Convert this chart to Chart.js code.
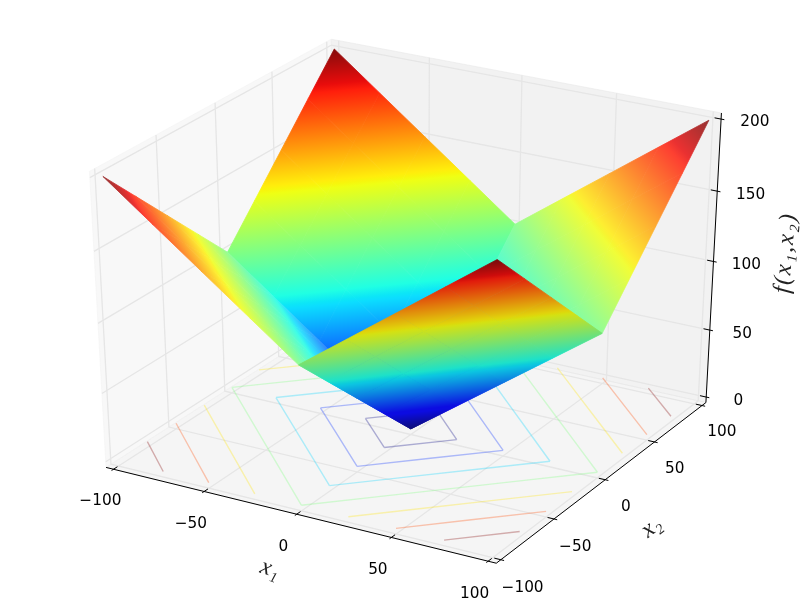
<!DOCTYPE html>
<html>
<head>
<meta charset="utf-8">
<style>
  html, body { margin: 0; padding: 0; background: #fff; }
  canvas { display: block; }
</style>
<script src="https://cdn.jsdelivr.net/npm/chart.js@4/dist/chart.umd.js"></script>
</head>
<body>
<canvas id="chart" width="800" height="600"></canvas>
<script>
// --- DATA ---
const x1Values = [-100, -75, -50, -25, 0, 25, 50, 75, 100];
const x2Values = [-100, -75, -50, -25, 0, 25, 50, 75, 100];
// f(x1, x2), one row per x2 value, one column per x1 value
const fValues = [
    [200, 175, 150, 125, 100, 125, 150, 175, 200],
    [175, 150, 125, 100, 75, 100, 125, 150, 175],
    [150, 125, 100, 75, 50, 75, 100, 125, 150],
    [125, 100, 75, 50, 25, 50, 75, 100, 125],
    [100, 75, 50, 25, 0, 25, 50, 75, 100],
    [125, 100, 75, 50, 25, 50, 75, 100, 125],
    [150, 125, 100, 75, 50, 75, 100, 125, 150],
    [175, 150, 125, 100, 75, 100, 125, 150, 175],
    [200, 175, 150, 125, 100, 125, 150, 175, 200]
];
const contourLevels = [25, 50, 75, 100, 125, 150, 175];
const x1Ticks = [-100, -50, 0, 50, 100];
const x2Ticks = [-100, -50, 0, 50, 100];
const zTicks = [0, 50, 100, 150, 200];
const x1TickLabels = ['\u2212100', '\u221250', '0', '50', '100'];
const x2TickLabels = ['\u2212100', '\u221250', '0', '50', '100'];
const zTickLabels = ['0', '50', '100', '150', '200'];
const x1Title = 'x\u2081';
const x2Title = 'x\u2082';
const zTitle = 'f(x\u2081,x\u2082)';

// --- VIEW (same camera as a default mplot3d axes) ---
const X_LIM = [-100, 100], Y_LIM = [-100, 100], Z_LIM = [0, 200];
const DIST = 10, ELEV = 30 * Math.PI / 180, AZIM = -60 * Math.PI / 180;
const N = [Math.cos(ELEV) * Math.cos(AZIM), Math.cos(ELEV) * Math.sin(AZIM), Math.sin(ELEV)];
const U = [Math.cos(AZIM + Math.PI / 2), Math.sin(AZIM + Math.PI / 2), 0];
const V = [N[1] * U[2] - N[2] * U[1], N[2] * U[0] - N[0] * U[2], N[0] * U[1] - N[1] * U[0]];

// the box is drawn a little larger than the limits
const PAD = 200 / 48;
const xLo = X_LIM[0] - PAD, xHi = X_LIM[1] + PAD;
const yLo = Y_LIM[0] - PAD, yHi = Y_LIM[1] + PAD;
const zLo = Z_LIM[0] - PAD, zHi = Z_LIM[1] + PAD;
const TICK = 200 / 12;

function dot(a, b) { return a[0] * b[0] + a[1] * b[1] + a[2] * b[2]; }

function world(x1, x2, z) {
    return [
        (x1 - X_LIM[0]) / (X_LIM[1] - X_LIM[0]) - 0.5,
        (x2 - Y_LIM[0]) / (Y_LIM[1] - Y_LIM[0]) - 0.5,
        (z - Z_LIM[0]) / (Z_LIM[1] - Z_LIM[0]) - 0.5
    ];
}

function project(x1, x2, z) {
    const p = world(x1, x2, z);
    const w = DIST - dot(N, p);
    return { x: dot(U, p) / w, y: dot(V, p) / w };
}

// --- COLOURS ---
const JET_STOPS = [0, 0.11, 0.125, 0.34, 0.35, 0.375, 0.64, 0.65, 0.66, 0.89, 0.91, 1];
const JET_R = [[0, 0], [0.35, 0], [0.66, 1], [0.89, 1], [1, 0.5]];
const JET_G = [[0, 0], [0.125, 0], [0.375, 1], [0.64, 1], [0.91, 0], [1, 0]];
const JET_B = [[0, 0.5], [0.11, 1], [0.34, 1], [0.65, 0], [1, 0]];

function channel(table, t) {
    for (let i = 1; i < table.length; i++) {
        if (t <= table[i][0]) {
            const a = table[i - 1], b = table[i];
            return a[1] + (b[1] - a[1]) * (t - a[0]) / (b[0] - a[0]);
        }
    }
    return table[table.length - 1][1];
}

function jet(t) {
    return [channel(JET_R, t) * 255, channel(JET_G, t) * 255, channel(JET_B, t) * 255];
}

function rgba(c, a) {
    return `rgba(${Math.round(c[0])},${Math.round(c[1])},${Math.round(c[2])},${a})`;
}

// each fold of the surface catches the light differently
const FACE_STYLE = {
    back: { shade: 1, alpha: 0.95 },
    left: { shade: 1, alpha: 0.8 },
    right: { shade: 1, alpha: 0.8 },
    front: { shade: 0.88, alpha: 0.95 }
};

function faceColor(style, t) {
    return jet(t).map(v => v * style.shade * style.alpha + 245 * (1 - style.alpha));
}

// gradient running through the quad along the direction f grows on screen
function quadGradient(chart, quad, style) {
    const sx = chart.scales.x, sy = chart.scales.y;
    if (!chart.chartArea) return 'rgba(0,0,0,0)';
    const pix = quad.map(c => {
        const p = project(c[0], c[1], c[2]);
        return [sx.getPixelForValue(p.x), sy.getPixelForValue(p.y), c[2]];
    });
    const a = pix[0], b = pix[1], d = pix[3];
    const dx1 = b[0] - a[0], dy1 = b[1] - a[1], df1 = b[2] - a[2];
    const dx2 = d[0] - a[0], dy2 = d[1] - a[1], df2 = d[2] - a[2];
    const det = dx1 * dy2 - dx2 * dy1;
    const gx = (df1 * dy2 - df2 * dy1) / det;
    const gy = (dx1 * df2 - dx2 * df1) / det;
    const g2 = gx * gx + gy * gy;
    const grad = chart.ctx.createLinearGradient(
        a[0] + gx * (Z_LIM[0] - a[2]) / g2, a[1] + gy * (Z_LIM[0] - a[2]) / g2,
        a[0] + gx * (Z_LIM[1] - a[2]) / g2, a[1] + gy * (Z_LIM[1] - a[2]) / g2
    );
    JET_STOPS.forEach(t => grad.addColorStop(t, rgba(faceColor(style, t), 1)));
    return grad;
}

// --- DATASETS ---
function polyline(points3d, color, width, order) {
    return {
        data: points3d.map(p => p ? project(p[0], p[1], p[2]) : { x: NaN, y: NaN }),
        showLine: true,
        borderColor: color,
        borderWidth: width,
        pointRadius: 0,
        tension: 0,
        fill: false,
        clip: false,
        order: order
    };
}

function polygon(points3d, fillColor, edgeColor, order) {
    const ds = polyline(points3d.concat([points3d[0]]), edgeColor, 1, order);
    ds.fill = 'shape';
    ds.backgroundColor = fillColor;
    return ds;
}

const datasets = [];

// panes
datasets.push(polygon([[xLo, yLo, zLo], [xLo, yHi, zLo], [xLo, yHi, zHi], [xLo, yLo, zHi]],
    'rgba(242,242,242,0.5)', 'rgba(242,242,242,0.5)', 1000));
datasets.push(polygon([[xLo, yHi, zLo], [xHi, yHi, zLo], [xHi, yHi, zHi], [xLo, yHi, zHi]],
    'rgba(230,230,230,0.5)', 'rgba(230,230,230,0.5)', 1000));
datasets.push(polygon([[xLo, yLo, zLo], [xHi, yLo, zLo], [xHi, yHi, zLo], [xLo, yHi, zLo]],
    'rgba(236,236,236,0.5)', 'rgba(236,236,236,0.5)', 1000));

// grid lines
const GRID = 'rgb(230,230,230)';
x1Ticks.forEach(v => datasets.push(polyline([[v, yLo, zLo], [v, yHi, zLo], [v, yHi, zHi]], GRID, 1.3, 900)));
x2Ticks.forEach(v => datasets.push(polyline([[xHi, v, zLo], [xLo, v, zLo], [xLo, v, zHi]], GRID, 1.3, 900)));
zTicks.forEach(v => datasets.push(polyline([[xLo, yLo, v], [xLo, yHi, v], [xHi, yHi, v]], GRID, 1.3, 900)));

// contours on the floor, traced across the cells of the table
contourLevels.forEach(level => {
    const pts = [];
    for (let j = 0; j < x2Values.length - 1; j++) {
        for (let i = 0; i < x1Values.length - 1; i++) {
            const hits = [[i, j], [i + 1, j], [i + 1, j + 1], [i, j + 1]]
                .filter(c => fValues[c[1]][c[0]] === level);
            if (hits.length === 2) {
                hits.forEach(c => pts.push([x1Values[c[0]], x2Values[c[1]], Z_LIM[0]]));
                pts.push(null);
            }
        }
    }
    const t = (level - contourLevels[0]) / (contourLevels[contourLevels.length - 1] - contourLevels[0]);
    datasets.push(polyline(pts, rgba(jet(t), 0.3), 1.4, 800));
});

// axis lines and ticks
const AXIS = '#000';
datasets.push(polyline([[xLo, yLo, zLo], [xHi, yLo, zLo]], AXIS, 1, 700));
datasets.push(polyline([[xHi, yLo, zLo], [xHi, yHi, zLo]], AXIS, 1, 700));
datasets.push(polyline([[xHi, yHi, zLo], [xHi, yHi, zHi]], AXIS, 1, 700));
x1Ticks.forEach(v => datasets.push(polyline([[v, yLo - 0.1 * TICK, zLo], [v, yLo + 0.2 * TICK, zLo]], AXIS, 1, 700)));
x2Ticks.forEach(v => datasets.push(polyline([[xHi + 0.1 * TICK, v, zLo], [xHi - 0.2 * TICK, v, zLo]], AXIS, 1, 700)));
zTicks.forEach(v => datasets.push(polyline([[xHi + 0.1 * TICK, yHi, v], [xHi - 0.2 * TICK, yHi, v]], AXIS, 1, 700)));

// surface, one dataset per table cell, far cells first
const quads = [];
for (let j = 0; j < x2Values.length - 1; j++) {
    for (let i = 0; i < x1Values.length - 1; i++) {
        const corners = [[i, j], [i + 1, j], [i + 1, j + 1], [i, j + 1]]
            .map(c => [x1Values[c[0]], x2Values[c[1]], fValues[c[1]][c[0]]]);
        const mid = [0, 1, 2].map(k => corners.reduce((s, c) => s + c[k], 0) / 4);
        const face = mid[0] < 0 ? (mid[1] > 0 ? 'back' : 'left') : (mid[1] > 0 ? 'right' : 'front');
        quads.push({ corners, face, depth: dot(N, world(mid[0], mid[1], mid[2])) });
    }
}
quads.sort((a, b) => b.depth - a.depth);
quads.forEach((q, idx) => {
    const style = FACE_STYLE[q.face];
    const paint = ctx => quadGradient(ctx.chart, q.corners, style);
    const ds = polygon(q.corners, paint, paint, idx);
    ds.borderWidth = 0.8;
    datasets.push(ds);
});

// --- TEXT ---
function drawLabel(chart, text, p, font, color, angle, spacing) {
    const ctx = chart.ctx;
    const q = project(p[0], p[1], p[2]);
    ctx.save();
    ctx.translate(chart.scales.x.getPixelForValue(q.x), chart.scales.y.getPixelForValue(q.y));
    ctx.rotate(angle || 0);
    ctx.font = font;
    ctx.letterSpacing = spacing || '0px';
    ctx.fillStyle = color;
    ctx.textAlign = 'center';
    ctx.textBaseline = 'middle';
    ctx.fillText(text, 0, 0);
    ctx.restore();
}

const TICK_FONT = '15.3px "DejaVu Sans"';
const TITLE_FONT = 'italic 24px "Liberation Serif", "DejaVu Serif"';
const TITLE_COLOR = '#222';

const textPlugin = {
    id: 'axisText',
    afterDatasetsDraw(chart) {
        x1Ticks.forEach((v, i) => drawLabel(chart, x1TickLabels[i], [v, yLo - 0.73 * TICK, zLo - TICK], TICK_FONT, '#000'));
        x2Ticks.forEach((v, i) => drawLabel(chart, x2TickLabels[i], [xHi + 0.68 * TICK, v, zLo - TICK], TICK_FONT, '#000'));
        zTicks.forEach((v, i) => drawLabel(chart, zTickLabels[i], [xHi + 15.35, yHi + 3.76, v], TICK_FONT, '#000'));
        drawLabel(chart, x1Title, [-2.4, yLo - 20.3, zLo - 29.3], TITLE_FONT, TITLE_COLOR, 18 * Math.PI / 180);
        drawLabel(chart, x2Title, [xHi + 25, 0, zLo - 27], TITLE_FONT, TITLE_COLOR, -38 * Math.PI / 180);
        drawLabel(chart, zTitle, [xHi + 24.6, yHi + 27.15, 100], TITLE_FONT, TITLE_COLOR, -85 * Math.PI / 180, '1.8px');
    }
};

// --- CHART ---
new Chart(document.getElementById('chart').getContext('2d'), {
    type: 'scatter',
    data: { datasets },
    options: {
        responsive: false,
        animation: false,
        events: [],
        layout: { padding: 0 },
        plugins: { legend: { display: false }, tooltip: { enabled: false } },
        scales: {
            x: { type: 'linear', display: false, min: -0.095, max: 0.09 },
            y: { type: 'linear', display: false, min: -0.095, max: 0.09 }
        }
    },
    plugins: [textPlugin]
});
</script>
</body>
</html>
